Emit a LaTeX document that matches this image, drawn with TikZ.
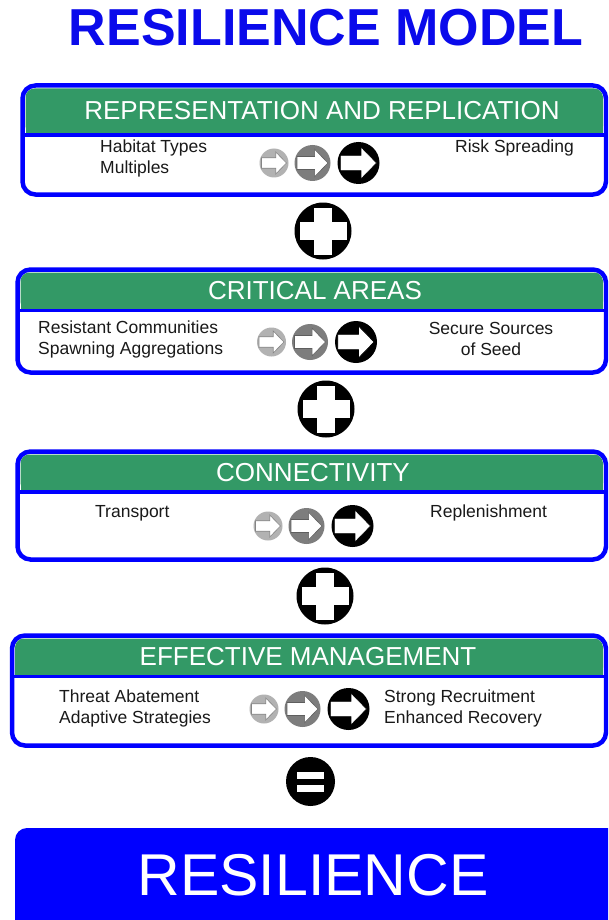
\documentclass[tikz,border=0pt]{standalone}
\usepackage{fontspec}
\setmainfont{Liberation Sans}
\usetikzlibrary{shapes.geometric}
\definecolor{hdgreen}{RGB}{51,153,102}
\definecolor{bblue}{RGB}{0,0,255}
\definecolor{ttblue}{RGB}{10,10,235}
\definecolor{txt}{RGB}{25,25,25}
\definecolor{lgray}{RGB}{178,178,178}
\definecolor{mgray}{RGB}{125,125,125}
\newcommand\rmpanel[5]{% l t r b hb
  \filldraw[draw=bblue, fill=white, line width=4.5pt, rounded corners=13pt] (#1,#2) rectangle (#3,#4);
  \fill[hdgreen, rounded corners=9pt] (#1+3,#2+3) rectangle (#3-3,#5);
  \fill[hdgreen] (#1+3,{(#2+#5)/2}) rectangle (#3-3,#5);
  \draw[bblue, line width=3.5pt] (#1+1,#5) -- (#3-1,#5);
}
\newcommand\rmdisc[5]{% name x y r color
  \node[circle, fill=#5, minimum size=#4*2pt, inner sep=0pt] (#1) at (#2,#3) {};
  \begin{scope}[shift={(#2,#3)}, x=#4pt, y=#4pt]
    \filldraw[fill=white, draw=#5!75!black, line width=0.6pt, line join=miter]
      (-0.86,0.36) -- (0.12,0.36) -- (0.12,0.76) -- (0.86,0) -- (0.12,-0.76) -- (0.12,-0.36) -- (-0.86,-0.36) -- cycle;
  \end{scope}}
\newcommand\rmdiscs[3]{% prefix y x1
  \rmdisc{#1a}{#3}{#2}{14.5}{lgray}
  \rmdisc{#1b}{#3+38.5}{#2}{18}{mgray}
  \rmdisc{#1c}{#3+84.5}{#2}{21}{black}}
\newcommand\rmplus[3]{%
  \node[circle, fill=black, minimum size=57pt, inner sep=0pt] (#1) at (#2,#3) {};
  \fill[white] (#2-9,#3-23.5) rectangle (#2+9,#3+23.5);
  \fill[white] (#2-23.5,#3-9) rectangle (#2+23.5,#3+9);}
\tikzset{
  hdtext/.style={text=white, font=\fontsize{26}{30}\selectfont, inner sep=0pt},
  bodytext/.style={text=txt, font=\fontsize{17.5}{21}\selectfont, inner sep=0pt},
}
\begin{document}
\begin{tikzpicture}[x=1pt, y=-1pt]
\useasboundingbox (0,0) rectangle (608,920);
\clip (0,0) rectangle (608,920);
\fill[white] (0,0) rectangle (608,920);

\node[text=ttblue, font=\fontsize{52}{56}\selectfont\bfseries, inner sep=0pt] (title) at (326,28) {RESILIENCE MODEL};

% Panel 1
\rmpanel{22.5}{85.5}{606}{194.5}{135}
\node[hdtext] (h1) at (322,111) {REPRESENTATION AND REPLICATION};
\node[bodytext, anchor=west, align=left] (l1) at (100,158) {Habitat Types\\Multiples};
\node[bodytext, anchor=west] (r1) at (455,148) {Risk Spreading};
\rmdiscs{d1}{163}{274}

\rmplus{p1}{323}{231}

% Panel 2
\rmpanel{17.5}{269.5}{606}{372.5}{310.5}
\node[hdtext] (h2) at (315,291) {CRITICAL AREAS};
\node[bodytext, anchor=west, align=left] (l2) at (38,339) {Resistant Communities\\Spawning Aggregations};
\node[bodytext, align=center] (r2) at (491,339) {Secure Sources\\of Seed};
\rmdiscs{d2}{342}{271.5}

\rmplus{p2}{326}{409}

% Panel 3
\rmpanel{17.5}{451.5}{606}{559.5}{492}
\node[hdtext] (h3) at (313,473) {CONNECTIVITY};
\node[bodytext, anchor=west] (l3) at (95,513) {Transport};
\node[bodytext, anchor=west] (r3) at (430,513) {Replenishment};
\rmdiscs{d3}{526}{268}

\rmplus{p3}{325}{596}

% Panel 4
\rmpanel{12}{635.5}{606}{745.5}{676.5}
\node[hdtext] (h4) at (308,657) {EFFECTIVE MANAGEMENT};
\node[bodytext, anchor=west, align=left] (l4) at (59,708) {Threat Abatement\\Adaptive Strategies};
\node[bodytext, anchor=west, align=left] (r4) at (384,708) {Strong Recruitment\\Enhanced Recovery};
\rmdiscs{d4}{709}{264}

% Equals
\node[ellipse, fill=black, minimum width=49pt, minimum height=49pt, inner sep=0pt] (eq) at (310.5,781.5) {};
\fill[white] (297,772) rectangle (324,779);
\fill[white] (297,785) rectangle (324,792);

% Result
\fill[bblue, rounded corners=12pt] (15,828) rectangle (625,935);
\node[text=white, font=\fontsize{59}{64}\selectfont, inner sep=0pt] (res) at (313,875) {RESILIENCE};
\end{tikzpicture}
\end{document}
